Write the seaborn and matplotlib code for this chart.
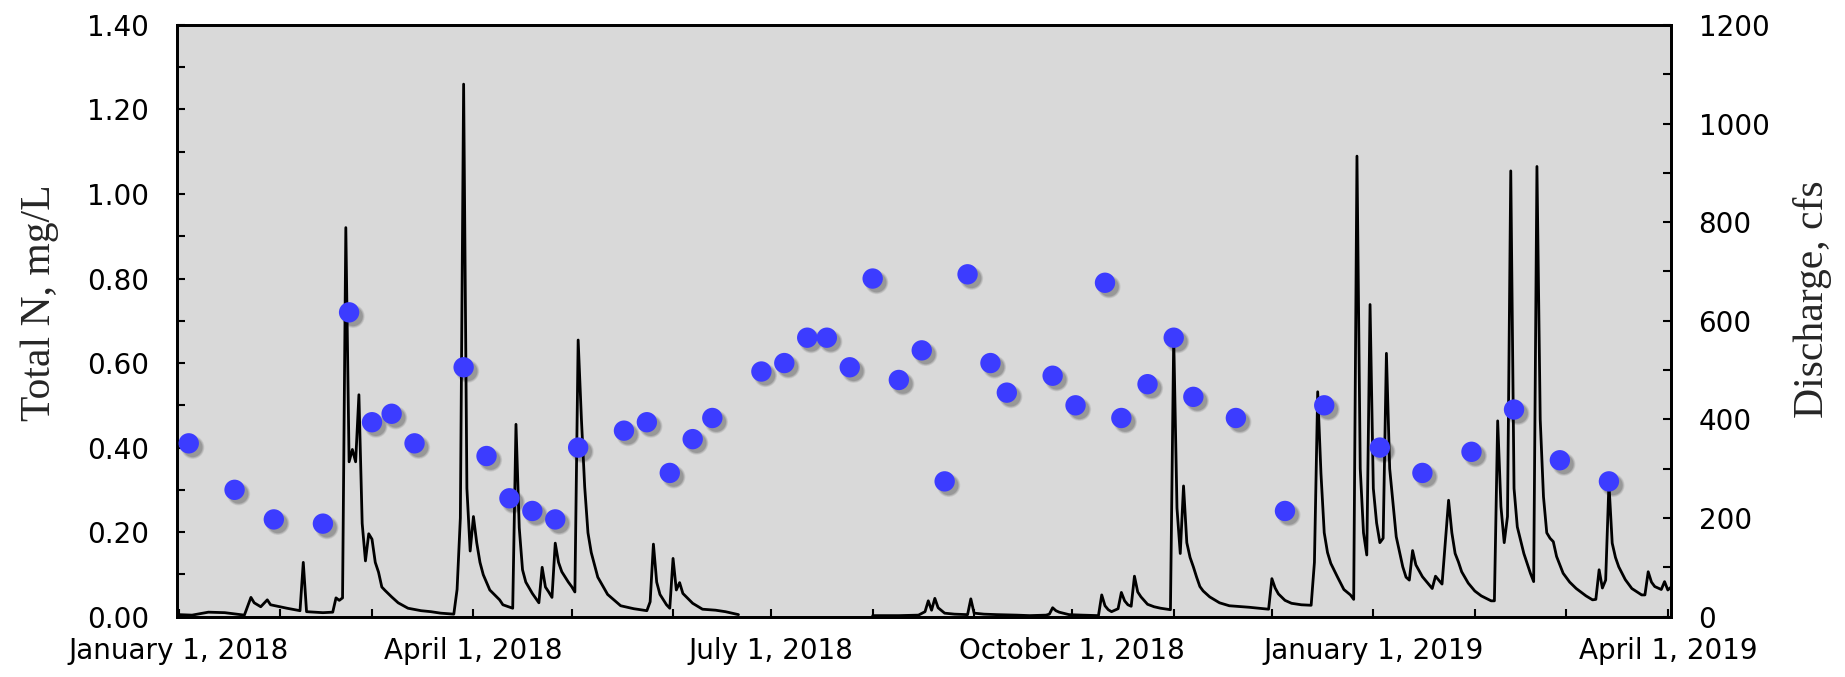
import numpy as np
import pandas as pd
import matplotlib
matplotlib.use("Agg")
import matplotlib.pyplot as plt
import matplotlib.dates as mdates
import matplotlib.transforms as mtransforms
from matplotlib.ticker import MultipleLocator, FormatStrFormatter, FuncFormatter
import seaborn as sns

# Total N grab samples, mg/L
tn_dates = [
    "2018-01-04", "2018-01-18", "2018-01-30", "2018-02-14", "2018-02-22",
    "2018-03-01", "2018-03-07", "2018-03-14", "2018-03-29", "2018-04-05",
    "2018-04-12", "2018-04-19", "2018-04-26", "2018-05-03", "2018-05-17",
    "2018-05-24", "2018-05-31", "2018-06-07", "2018-06-13", "2018-06-28",
    "2018-07-05", "2018-07-12", "2018-07-18", "2018-07-25", "2018-08-01",
    "2018-08-09", "2018-08-16", "2018-08-23", "2018-08-30", "2018-09-06",
    "2018-09-11", "2018-09-25", "2018-10-02", "2018-10-11", "2018-10-16",
    "2018-10-24", "2018-11-01", "2018-11-07", "2018-11-20", "2018-12-05",
    "2018-12-17", "2019-01-03", "2019-01-16", "2019-01-31", "2019-02-13",
    "2019-02-27", "2019-03-14",
]
tn_values = [
    0.41, 0.30, 0.23, 0.22, 0.72,
    0.46, 0.48, 0.41, 0.59, 0.38,
    0.28, 0.25, 0.23, 0.40, 0.44,
    0.46, 0.34, 0.42, 0.47, 0.58,
    0.60, 0.66, 0.66, 0.59, 0.80,
    0.56, 0.63, 0.32, 0.81, 0.60,
    0.53, 0.57, 0.50, 0.79, 0.47,
    0.55, 0.66, 0.52, 0.47, 0.25,
    0.50, 0.40, 0.34, 0.39, 0.49,
    0.37, 0.32,
]

# Discharge read off the hydrograph (days counted from 2018-01-01), cfs
# NaN = no record during the summer 2018 stretch
q_days = [
    0, 4, 9, 14, 20, 22, 23, 25, 27, 28, 33, 37, 38, 39, 44, 47, 48, 49, 50,
    51, 52, 53, 54, 55, 56, 57, 58, 59, 60, 61, 62, 63, 65, 67, 70, 74, 77, 80,
    84, 85, 86, 87, 88, 89, 90, 91, 92, 93, 95, 98, 99, 102, 103, 104, 105, 106,
    108, 110, 111, 112, 113, 114, 115, 116, 117, 119, 120, 121, 122, 123, 124,
    125, 126, 128, 131, 135, 139, 143, 144, 145, 146, 147, 149, 150, 151, 152,
    153, 154, 157, 160, 164, 167, 171,
    172,
    212, 220, 226, 228, 229, 230, 231, 232, 234, 237, 241, 242, 243, 246, 250,
    256, 260, 265, 266, 267, 268, 269, 272, 276, 281, 282, 283, 284, 285, 287,
    288, 289, 290, 291, 292, 293, 294, 296, 298, 300, 303, 304, 305, 306, 307,
    308, 309, 310, 311, 312, 313, 315, 318, 321, 327, 333, 334, 335, 336, 338,
    340, 343, 346, 347, 348, 349, 350, 351, 352, 354, 356, 358, 359, 360, 361,
    362, 363, 364, 365, 366, 367, 368, 369, 370, 371, 372, 374, 375, 376, 377,
    378, 380, 383, 384, 386, 388, 389, 390, 391, 392, 394, 396, 398, 401, 402,
    403, 404, 405, 406, 407, 408, 409, 411, 413, 414, 415, 416, 417, 418, 419,
    420, 421, 423, 425, 427, 430, 432, 433, 434, 435, 436, 437, 438, 439, 440,
    442, 444, 447, 448, 449, 450, 451, 453, 454, 455, 456,
]
q_cfs = [
    4, 3, 9, 8, 3, 39, 28, 20, 34, 24, 17, 12, 110, 10, 8, 9, 38, 33, 38,
    789, 314, 339, 314, 450, 189, 113, 168, 157, 110, 90, 60, 53, 40, 28, 17, 12, 10, 7,
    5, 55, 200, 1080, 260, 133, 203, 150, 110, 85, 54, 34, 24, 17, 390, 180, 95, 70,
    47, 28, 100, 60, 50, 39, 149, 110, 91, 70, 61, 50, 561, 400, 263,
    170, 130, 80, 45, 22, 16, 12, 30, 147, 70, 45, 24, 17, 118, 54,
    69, 47, 27, 15, 13, 10, 4,
    np.nan,
    2, 2, 3, 10, 32, 13, 37, 18, 7, 5, 4, 36, 7, 5, 4,
    3, 2, 3, 5, 18, 12, 9, 4, 3, 2, 44, 22, 14, 10, 16,
    49, 32, 24, 21, 82, 50, 40, 25, 20, 17, 14, 566, 220, 128, 265,
    150, 120, 101, 80, 61, 52, 40, 28, 22, 19, 15, 77, 58, 46, 33,
    27, 24, 23, 110, 456, 290, 170, 130, 108, 81, 55, 44, 35, 934, 300,
    170, 125, 633, 260, 190, 150, 159, 534, 300, 230, 162, 101, 80, 74, 134,
    105, 81, 57, 82, 66, 236, 170, 128, 111, 91, 68, 52, 42, 32, 32,
    397, 223, 150, 203, 904, 260, 182, 128, 88, 71, 913, 400, 243, 170, 159,
    152, 122, 88, 70, 57, 42, 34, 35, 95, 58, 74, 270, 149, 120, 101,
    75, 57, 44, 44, 91, 70, 61, 55, 71, 54, 60,
]

start = pd.Timestamp("2018-01-01")
tn = pd.DataFrame({"date": pd.to_datetime(tn_dates), "tn": tn_values})
q = pd.DataFrame({"date": start + pd.to_timedelta(q_days, unit="D"), "cfs": q_cfs})
q["segment"] = q["cfs"].isna().cumsum()
q = q.dropna()

sns.set_style("ticks")
plt.rcParams["font.family"] = ["DejaVu Sans"]

fig = plt.figure(figsize=(18.45, 6.77), dpi=100)
ax = fig.add_axes([0.0958, 0.0892, 0.8098, 0.8739])
ax2 = ax.twinx()

# discharge hydrograph on the right axis
sns.lineplot(data=q, x="date", y="cfs", units="segment", estimator=None,
             color="black", linewidth=2.0, ax=ax2, legend=False)

# drop shadow under the sample dots, then the dots
off = mtransforms.offset_copy(ax.transData, fig=fig, x=4, y=-4, units="dots")
for k, a in enumerate([0.08, 0.10, 0.14]):
    sns.scatterplot(data=tn, x="date", y="tn", ax=ax, s=280 - 40 * k,
                    color="black", alpha=a, edgecolor="none", transform=off,
                    legend=False, zorder=3)
sns.scatterplot(data=tn, x="date", y="tn", ax=ax, s=215, color="#3c3cff",
                edgecolor="none", legend=False, zorder=4)

# put the sample axis above the hydrograph axis
ax.set_zorder(ax2.get_zorder() + 1)
ax.patch.set_visible(False)
ax2.patch.set_visible(True)
ax2.set_facecolor("#d9d9d9")

ax.set_xlim(pd.Timestamp("2017-12-31 08:00"), pd.Timestamp("2019-04-01 22:00"))
ax.set_ylim(0, 1.40)
ax2.set_ylim(0, 1200)

ax.xaxis.set_major_locator(mdates.MonthLocator(bymonth=[1, 4, 7, 10]))
ax.xaxis.set_minor_locator(mdates.MonthLocator())
ax.xaxis.set_major_formatter(FuncFormatter(
    lambda v, pos: "{0:%B} {0.day}, {0.year}".format(mdates.num2date(v))))
ax.yaxis.set_major_locator(MultipleLocator(0.2))
ax.yaxis.set_minor_locator(MultipleLocator(0.1))
ax.yaxis.set_major_formatter(FormatStrFormatter("%.2f"))
ax2.yaxis.set_major_locator(MultipleLocator(200))
ax2.yaxis.set_minor_locator(MultipleLocator(100))

ax.tick_params(axis="both", which="both", direction="in", length=6, width=1.5,
               top=False, right=False, colors="black")
ax.tick_params(axis="x", which="major", pad=15, labelsize=20)
ax.tick_params(axis="y", which="major", pad=20, labelsize=20)
ax2.tick_params(axis="y", which="both", direction="in", length=6, width=1.5,
                left=False, right=True, colors="black")
ax2.tick_params(axis="y", which="major", pad=20, labelsize=20)

for a in (ax, ax2):
    for sp in a.spines.values():
        sp.set_linewidth(2)
        sp.set_color("black")

ax.set_xlabel("")
ax.set_ylabel("Total N, mg/L", fontsize=30, family="Liberation Serif")
ax.yaxis.set_label_coords(-0.0788, 0.53)
ax2.set_ylabel("Discharge, cfs", fontsize=30, family="Liberation Serif")
ax2.yaxis.set_label_coords(1.082, 0.537)

fig.savefig("out.png", dpi=100)
